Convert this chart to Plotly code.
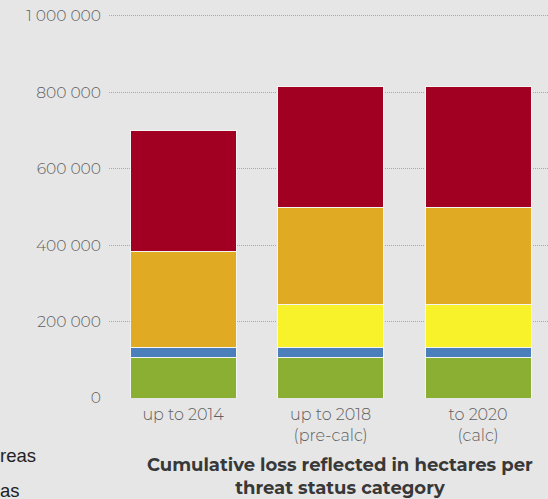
import plotly.graph_objects as go

categories = ["up to 2014", "up to 2018<br>(pre-calc)", "to 2020<br>(calc)"]
series_names = ["Least concern", "Protected", "Vulnerable", "Endangered", "Critically endangered"]
green = [106500, 106500, 106500]
blue = [25000, 25000, 25000]
yellow = [0, 114000, 114000]
orange = [253000, 254000, 254000]
red = [314000, 315000, 315000]
y_ticks = [0, 200000, 400000, 600000, 800000, 1000000]

series_values = [green, blue, yellow, orange, red]
colors = ["#8BAF32", "#4A7FBB", "#F7F22A", "#E0AB22", "#A20022"]

W, H = 548, 499
L, R, T, B = 109, 0, 14, 101
plot_w = W - L - R
plot_h = H - T - B
y_top = 1004400

fig = go.Figure()
for name, vals, col in zip(series_names, series_values, colors):
    fig.add_trace(go.Bar(
        x=categories, y=vals, name=name,
        marker=dict(color=col, line=dict(color="#f4f4f4", width=1)),
    ))

BG = "#e6e6e6"
tick_font = dict(family="Montserrat, Open Sans, sans-serif", size=15.5, color="#5f5f5f", weight=300)

def py(pix):
    return (H - B - pix) / plot_h

fig.update_layout(
    width=W, height=H,
    barmode="stack", bargap=0.281,
    paper_bgcolor=BG, plot_bgcolor=BG,
    margin=dict(l=L, r=R, t=T, b=B, autoexpand=False),
    showlegend=False,
    separators=". ",
    xaxis=dict(
        range=[-0.502, 2.474], showgrid=False, zeroline=False, showline=False,
        tickfont=dict(tick_font, size=16), ticks="", ticklabelstandoff=5,
    ),
    yaxis=dict(
        range=[0, y_top], tickvals=y_ticks, tickformat=",d",
        showgrid=True, gridcolor="#a9a9a9", griddash="1px,1px", gridwidth=1,
        zeroline=False, showline=False, ticks="",
        tickfont=tick_font, ticklabelstandoff=7,
    ),
    annotations=[
        dict(text="<b>Cumulative loss reflected in hectares per<br>threat status category</b>",
             xref="paper", yref="paper", x=(340 - L) / plot_w, y=py(476.5),
             xanchor="center", yanchor="middle", showarrow=False,
             font=dict(family="Montserrat, Open Sans, sans-serif", size=18, color="#383838")),
        dict(text="reas", xref="paper", yref="paper", x=(-2 - L) / plot_w, y=py(455),
             xanchor="left", yanchor="middle", showarrow=False,
             font=dict(family="Liberation Sans, Arial, sans-serif", size=18.5, color="#222222")),
        dict(text="as", xref="paper", yref="paper", x=(-2 - L) / plot_w, y=py(490),
             xanchor="left", yanchor="middle", showarrow=False,
             font=dict(family="Liberation Sans, Arial, sans-serif", size=18.5, color="#222222")),
    ],
)

fig.write_html("out.html", config={"displayModeBar": False},
               post_script="document.body.style.margin='0';")
